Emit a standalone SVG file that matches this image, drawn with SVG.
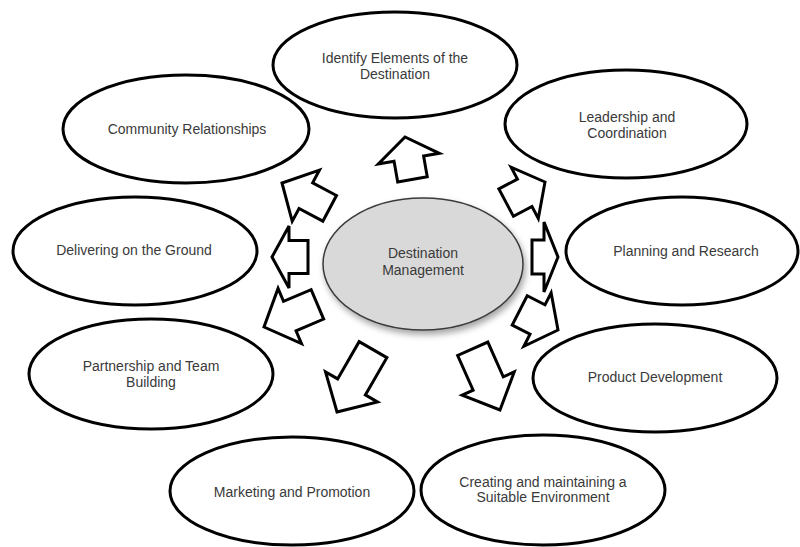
<svg xmlns="http://www.w3.org/2000/svg" width="800" height="547" viewBox="0 0 800 547">
  <defs>
    <filter id="shadow" x="-20%" y="-20%" width="140%" height="150%">
      <feDropShadow dx="2" dy="4" stdDeviation="3" flood-color="#000" flood-opacity="0.35"/>
    </filter>
  </defs>
  <style>
    .node ellipse { fill: #ffffff; stroke: #000000; stroke-width: 3; }
    .center ellipse { fill: #d9d9d9; stroke: #3a3a3a; stroke-width: 1.5; }
    text { font-family: "Liberation Sans", Arial, sans-serif; font-size: 14px; fill: #3a3a3a; text-anchor: middle; }
    .arrow { fill: #ffffff; stroke: #000000; stroke-width: 3; stroke-linejoin: miter; }
  </style>
  <rect width="800" height="547" fill="#ffffff"/>

  <g id="node-center" class="center">
    <ellipse cx="423" cy="264" rx="100" ry="66" filter="url(#shadow)"/>
    <text x="423" y="258">Destination</text>
    <text x="423" y="275">Management</text>
  </g>

  <g id="node-identify" class="node">
    <ellipse cx="395" cy="65" rx="122" ry="53"/>
    <text x="395" y="63">Identify Elements of the</text>
    <text x="395" y="79">Destination</text>
  </g>

  <g id="node-community" class="node">
    <ellipse cx="186" cy="129" rx="123" ry="54"/>
    <text x="187" y="134">Community Relationships</text>
  </g>

  <g id="node-leadership" class="node">
    <ellipse cx="626" cy="124" rx="121" ry="54"/>
    <text x="627" y="122">Leadership and</text>
    <text x="627" y="138">Coordination</text>
  </g>

  <g id="node-delivering" class="node">
    <ellipse cx="135" cy="251" rx="122" ry="54"/>
    <text x="134" y="255">Delivering on the Ground</text>
  </g>

  <g id="node-planning" class="node">
    <ellipse cx="682" cy="251" rx="116" ry="54"/>
    <text x="686" y="256">Planning and Research</text>
  </g>

  <g id="node-partnership" class="node">
    <ellipse cx="151" cy="374" rx="122" ry="55"/>
    <text x="151" y="371">Partnership and Team</text>
    <text x="151" y="387">Building</text>
  </g>

  <g id="node-product" class="node">
    <ellipse cx="655" cy="378" rx="122" ry="54"/>
    <text x="655" y="382">Product Development</text>
  </g>

  <g id="node-marketing" class="node">
    <ellipse cx="292" cy="491" rx="122" ry="54"/>
    <text x="292" y="497">Marketing and Promotion</text>
  </g>

  <g id="node-creating" class="node">
    <ellipse cx="543" cy="490" rx="122" ry="55"/>
    <text x="543" y="487">Creating and maintaining a</text>
    <text x="543" y="502">Suitable Environment</text>
  </g>

  <g id="connectors">
    <polygon class="arrow" transform="translate(405,137) rotate(-100)" points="0,0 -22,-31 -22,-15 -43,-15 -43,15 -22,15 -22,31"/>
    <polygon class="arrow" transform="translate(282,183) rotate(-152)" points="0,0 -27,-29 -27,-14.5 -54,-14.5 -54,14.5 -27,14.5 -27,29"/>
    <polygon class="arrow" transform="translate(272,257) rotate(180)" points="0,0 -17,-31 -17,-16.5 -36,-16.5 -36,16.5 -17,16.5 -17,31"/>
    <polygon class="arrow" transform="translate(264,327) rotate(157)" points="0,0 -28,-30 -28,-16 -58,-16 -58,16 -28,16 -28,30"/>
    <polygon class="arrow" transform="translate(337,412) rotate(120)" points="0,0 -29,-30 -29,-16 -72,-16 -72,16 -29,16 -29,30"/>
    <polygon class="arrow" transform="translate(500,410) rotate(66)" points="0,0 -29,-28.5 -29,-16.5 -67,-16.5 -67,16.5 -29,16.5 -29,28.5"/>
    <polygon class="arrow" transform="translate(545,182) rotate(-28)" points="0,0 -23,-29 -23,-15.5 -44,-15.5 -44,15.5 -23,15.5 -23,29"/>
    <polygon class="arrow" transform="translate(558,257) rotate(0)" points="0,0 -14,-35 -14,-17 -26,-17 -26,17 -14,17 -14,35"/>
    <polygon class="arrow" transform="translate(558,330) rotate(27)" points="0,0 -23,-30 -23,-16.5 -43,-16.5 -43,16.5 -23,16.5 -23,30"/>
  </g>
</svg>
